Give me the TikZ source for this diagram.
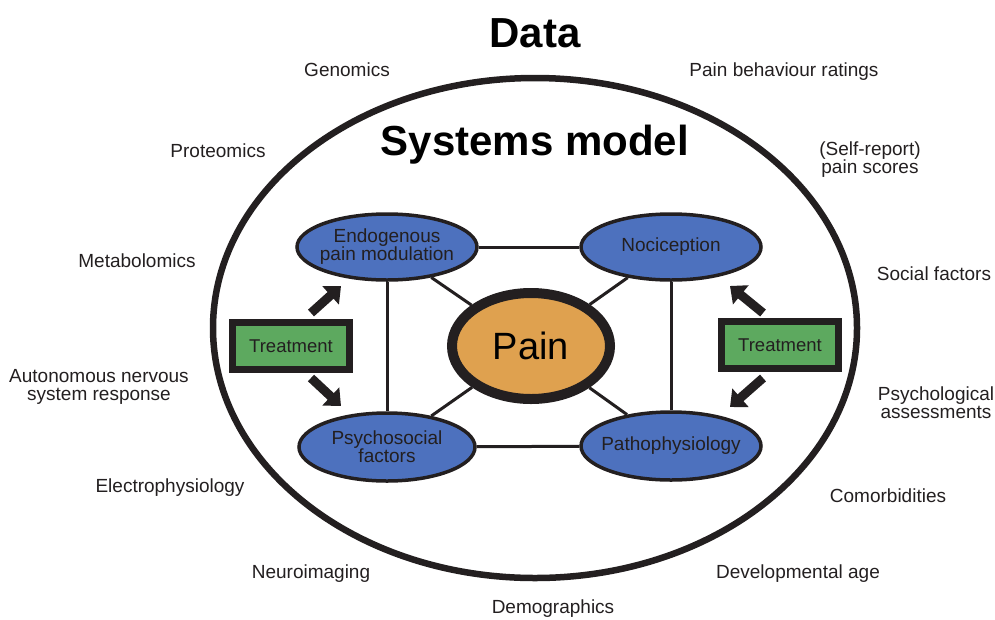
\documentclass[tikz,border=0pt]{standalone}
\usepackage{fontspec}
\setmainfont{Liberation Sans}
\usetikzlibrary{shapes.geometric,arrows.meta}
\definecolor{ink}{HTML}{231F20}
\definecolor{modblue}{HTML}{4D71BE}
\definecolor{painorange}{HTML}{DFA14F}
\definecolor{treatgreen}{HTML}{5DA95F}
\begin{document}
\begin{tikzpicture}[x=1pt,y=-1pt,
  factor/.style={ellipse, draw=ink, fill=modblue, line width=3.5pt, inner sep=0pt,
    minimum width=180pt, minimum height=66pt},
  flabel/.style={align=center, font=\fontsize{19}{18}\selectfont, text=ink, inner sep=0pt},
  datalabel/.style={align=center, font=\fontsize{19}{18}\selectfont, text=ink, inner sep=0pt},
  heading/.style={font=\fontsize{42}{44}\selectfont\bfseries, text=black, inner sep=0pt},
  link/.style={draw=ink, line width=3pt},
  treatbox/.style={rectangle, draw=ink, fill=treatgreen, line width=7pt,
    minimum width=117pt, minimum height=47pt, inner sep=0pt,
    font=\fontsize{18.5}{20}\selectfont, text=ink},
  push/.style={draw=ink, line width=9pt, -{Triangle[length=14pt,width=24pt]}},
]
\useasboundingbox (0,0) rectangle (995,619);

% outer boundary of the systems model
\draw[ink, line width=6.5pt] (535,328) ellipse [x radius=322, y radius=250];

% headings
\node[heading] (data) at (535,33) {Data};
\node[heading] (sysmodel) at (535,145) {Systems model};

% central node and the four contributing factors
\node[ellipse, draw=ink, fill=painorange, line width=10pt, inner sep=0pt,
  minimum width=158pt, minimum height=106pt] (pain) at (531,346) {};
\node[inner sep=0pt, font=\fontsize{38}{40}\selectfont, text=black] (painlbl) at (pain) {Pain};

\node[factor] (endo) at (387,247) {};
\node[flabel] (endolbl) at (endo) {Endogenous\\pain modulation};
\node[factor] (noci) at (671,247) {};
\node[flabel] (nocilbl) at (noci) {Nociception};
\node[factor, minimum width=176pt, minimum height=68pt] (psycho) at (387,447) {};
\node[flabel] (psycholbl) at (psycho) {Psychosocial\\factors};
\node[factor, minimum height=68pt] (patho) at (671,446) {};
\node[flabel] (patholbl) at (patho) {Pathophysiology};

% links between the factors and the central node
\draw[link] (endo) -- (noci);
\draw[link] (psycho) -- (patho);
\draw[link] (endo) -- (psycho);
\draw[link] (noci) -- (patho);
\draw[link] (endo) -- (pain);
\draw[link] (noci) -- (pain);
\draw[link] (psycho) -- (pain);
\draw[link] (patho) -- (pain);

% treatment boxes with their arrows
\node[treatbox] (treatL) at (291,346) {Treatment};
\node[treatbox] (treatR) at (780,345) {Treatment};

\coordinate (aLt0) at (311,313);
\coordinate (aLt1) at (341,286);
\coordinate (aLb0) at (311,378);
\coordinate (aLb1) at (341,406);
\coordinate (aRt0) at (763,313);
\coordinate (aRt1) at (730,286);
\coordinate (aRb0) at (763,378);
\coordinate (aRb1) at (730,407);
\draw[push] (aLt0) -- (aLt1);
\draw[push] (aLb0) -- (aLb1);
\draw[push] (aRt0) -- (aRt1);
\draw[push] (aRb0) -- (aRb1);

% data sources around the model
\node[datalabel] (genomics) at (347,70) {Genomics};
\node[datalabel] (behaviour) at (784,72) {Pain behaviour ratings};
\node[datalabel] (proteomics) at (218,151) {Proteomics};
\node[datalabel] (selfreport) at (870,160) {(Self-report)\\pain scores};
\node[datalabel] (metabol) at (137,261) {Metabolomics};
\node[datalabel] (social) at (934,274) {Social factors};
\node[datalabel] (autonomic) at (99,387) {Autonomous nervous\\system response};
\node[datalabel] (psychassess) at (936,403) {Psychological\\assessments};
\node[datalabel] (electro) at (170,488) {Electrophysiology};
\node[datalabel] (comorb) at (888,496) {Comorbidities};
\node[datalabel] (neuro) at (311,574) {Neuroimaging};
\node[datalabel] (devage) at (798,574) {Developmental age};
\node[datalabel] (demog) at (553,609) {Demographics};
\end{tikzpicture}
\end{document}
